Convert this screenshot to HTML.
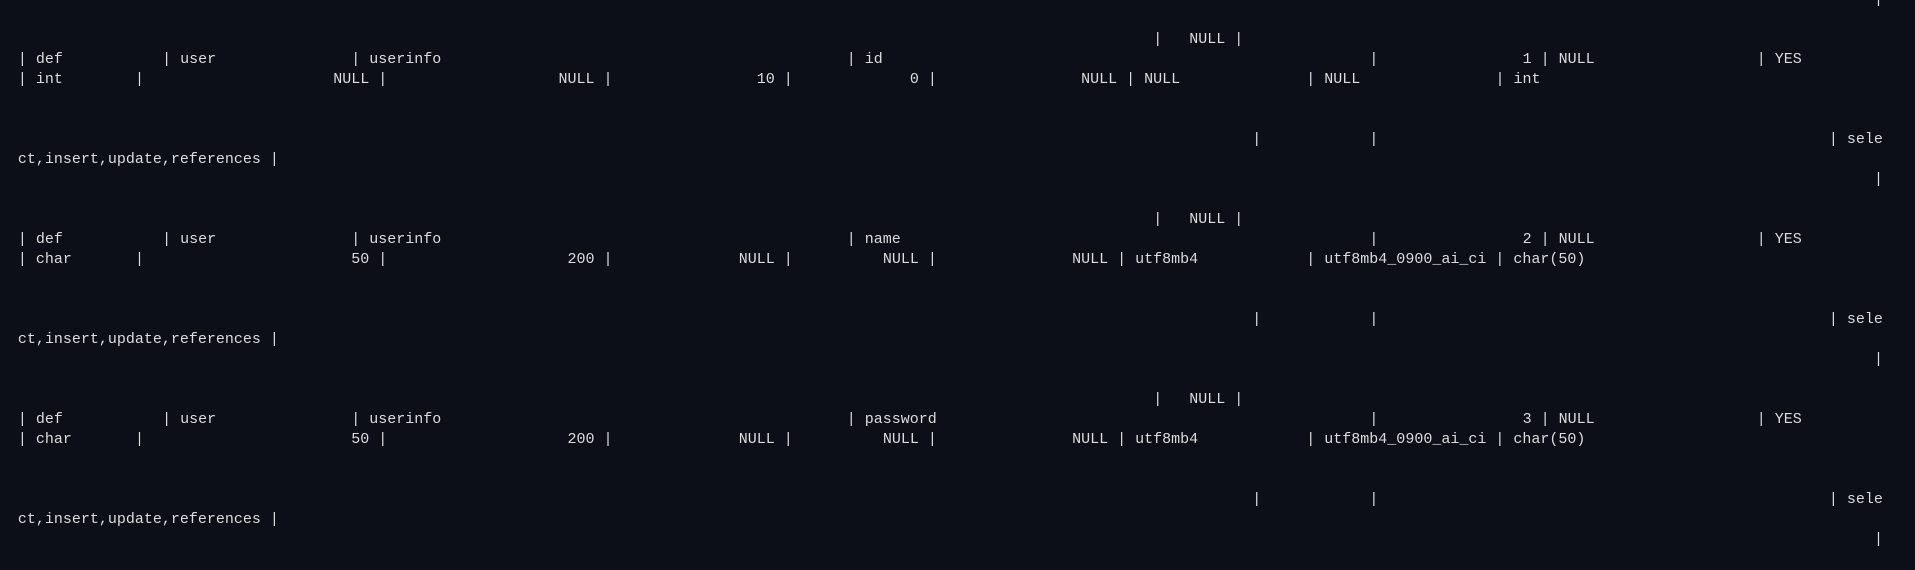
<!DOCTYPE html>
<html><head><meta charset="utf-8"><style>
html,body{margin:0;padding:0;background:#0c0f17;width:1915px;height:570px;overflow:hidden}
.t{position:absolute;font-family:"Liberation Mono",monospace;font-size:15px;line-height:20px;color:#dcdcdc;white-space:pre}
</style></head><body>
<div id="c"></div>
<script>
var L=[];
function p(y,col,s){L.push('<div class="t" style="top:'+(y+2)+'px;left:'+(17.9+col*9.01).toFixed(1)+'px">'+s+'</div>');}
p(-12,206,"|");
var blocks=[
 [28,"id","1",["| int",0],["|",13],["NULL |",35],["NULL |",60],["10 |",82],["0 |",99],["NULL | NULL",118],["| NULL",143],["| int",164]],
 [208,"name","2",["| char",0],["|",13],["50 |",37],["200 |",61],["NULL |",80],["NULL |",96],["NULL | utf8mb4",117],["| utf8mb4_0900_ai_ci | char(50)",143]],
 [388,"password","3",["| char",0],["|",13],["50 |",37],["200 |",61],["NULL |",80],["NULL |",96],["NULL | utf8mb4",117],["| utf8mb4_0900_ai_ci | char(50)",143]]
];
blocks.forEach(function(b){
 var B=b[0];
 p(B,126,"|   NULL |");
 p(B+20,0,"| def");p(B+20,16,"| user");p(B+20,37,"| userinfo");p(B+20,92,"| "+b[1]);p(B+20,150,"|");p(B+20,167,b[2]+" | NULL");p(B+20,193,"| YES");
 for(var i=3;i<b.length;i++)p(B+40,b[i][1],b[i][0]);
 p(B+100,137,"|");p(B+100,150,"|");p(B+100,201,"| sele");
 p(B+120,0,"ct,insert,update,references |");
 p(B+140,206,"|");
});
document.getElementById("c").innerHTML=L.join("");
</script>
</body></html>
